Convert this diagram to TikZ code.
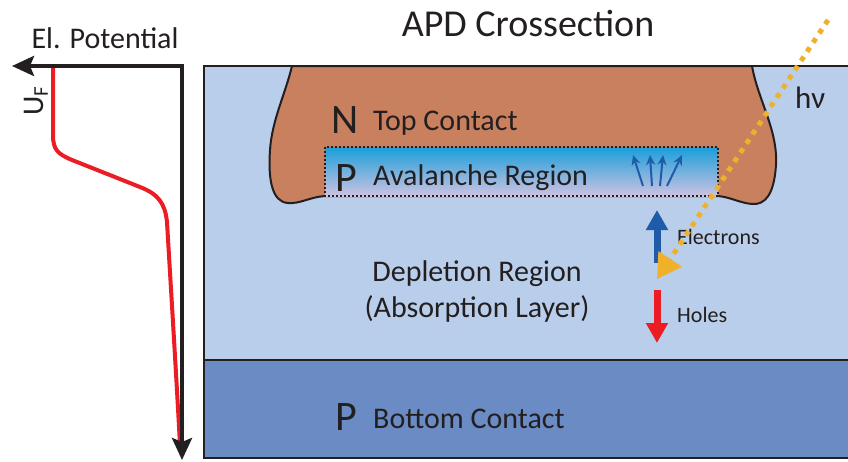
\documentclass[tikz,border=0pt]{standalone}
\usepackage{fontspec}
\setmainfont{Carlito}
\usetikzlibrary{arrows.meta}
\definecolor{Ink}         {HTML}{231F20}
\definecolor{DepletionBlue}{HTML}{B9CEEA}
\definecolor{ContactBlue} {HTML}{6B8BC5}
\definecolor{ContactBrown}{HTML}{C9805F}
\definecolor{AvalTop}     {HTML}{1A9ED9}
\definecolor{AvalBottom}  {HTML}{CDC3E2}
\definecolor{CarrierBlue} {HTML}{1F5BA9}
\definecolor{CarrierRed}  {HTML}{EC1C24}
\definecolor{PhotonOrange}{HTML}{EFB12A}

\begin{document}
\begin{tikzpicture}[x=1pt, y=-1pt,
  txt/.style={inner sep=0pt, text=Ink, font=\fontsize{30}{32}\selectfont},
  dope/.style={inner sep=0pt, text=Ink, font=\fontsize{42}{44}\selectfont},
  small/.style={inner sep=0pt, text=Ink, font=\fontsize{22}{24}\selectfont},
  carrier/.style={line width=7pt, -{Triangle[length=20pt,width=21pt]}}]

  \useasboundingbox (0,0) rectangle (848,461);

  % ===== POTENTIAL PROFILE (left) =====
  \coordinate (axtip) at (12,66);
  \coordinate (axcorner) at (182,66);
  \coordinate (axend) at (182,460);
  \draw[CarrierRed, line width=4pt, line cap=round]
        (53,68) -- (53,135) .. controls (53,150) and (58,154) .. (72,160)
        -- (140,187) .. controls (158,194) and (165,203) .. (167,222)
        .. controls (171,290) and (176,370) .. (180,445);
  \draw[Ink, line width=4pt,
        {Stealth[length=22pt,width=20pt,inset=4pt]}-{Stealth[length=22pt,width=20pt,inset=4pt]}]
        (axtip) -- (axcorner) -- (axend);
  \node[txt, anchor=base] (potlabel) at (105,48) {El. Potential};
  \node[txt, anchor=base west, rotate=90] (uf) at (43,116) {U\textsubscript{F}};

  % ===== LAYERS =====
  \fill[DepletionBlue] (204,66) rectangle (848,360);
  \fill[ContactBlue] (204,360) rectangle (848,458);
  \draw[Ink, line width=1.5pt] (204,360) -- (848,360);

  % N top contact
  \draw[Ink, line width=2pt, fill=ContactBrown]
        (292,66) -- (752,66) .. controls (758,100) and (778,130) .. (776,165)
        .. controls (774,195) and (765,205) .. (752,204)
        .. controls (740,203) and (730,197) .. (718,196) -- (325,196)
        .. controls (310,197) and (300,204) .. (288,203)
        .. controls (272,202) and (268,180) .. (270,150)
        .. controls (272,120) and (285,95) .. (292,66) -- cycle;

  % avalanche region
  \shade[top color=AvalTop, bottom color=AvalBottom] (325,147) rectangle (718,196);
  \draw[Ink, line width=2pt, dash pattern=on 2pt off 2pt] (325,147) rectangle (718,196);
  \foreach \bx/\tx in {643/633, 652/650, 660/663, 667/682}
    \draw[CarrierBlue, line width=2pt, -{Stealth[length=10pt,width=9pt]}] (\bx,186) -- (\tx,155);

  % outline of the cross-section
  \draw[Ink, line width=2pt] (848,66) -- (204,66) -- (204,458) -- (848,458);

  % ===== LABELS =====
  \node[txt, anchor=base, font=\fontsize{38}{40}\selectfont] (title) at (528,36) {APD Crossection};
  \node[dope, anchor=base west] (ntype) at (331,133) {N};
  \node[txt, anchor=base west] (topc) at (373,130) {Top Contact};
  \node[dope, anchor=base west] (ptype) at (335,191) {P};
  \node[txt, anchor=base west] (aval) at (373,185) {Avalanche Region};
  \node[txt, anchor=base] (depl) at (477,281) {Depletion Region};
  \node[txt, anchor=base] (absorb) at (477,317) {(Absorption Layer)};
  \node[dope, anchor=base west] (pbottom) at (335,430) {P};
  \node[txt, anchor=base west] (botc) at (373,428) {Bottom Contact};
  \node[txt, anchor=base west, font=\fontsize{31}{33}\selectfont] (hnu) at (795,108) {hν};

  % ===== CARRIERS =====
  \draw[carrier, CarrierBlue] (657,263) -- (657,210);
  \draw[carrier, CarrierRed] (657,290) -- (657,343);
  \node[small, anchor=base west] (elec) at (677,244) {Electrons};
  \node[small, anchor=base west] (holes) at (677,322) {Holes};

  % ===== INCOMING PHOTON =====
  \draw[PhotonOrange, line width=5pt, dash pattern=on 5pt off 6pt,
        -{Triangle[length=24pt,width=27pt]}] (828,20) -- (657,279);

\end{tikzpicture}
\end{document}
